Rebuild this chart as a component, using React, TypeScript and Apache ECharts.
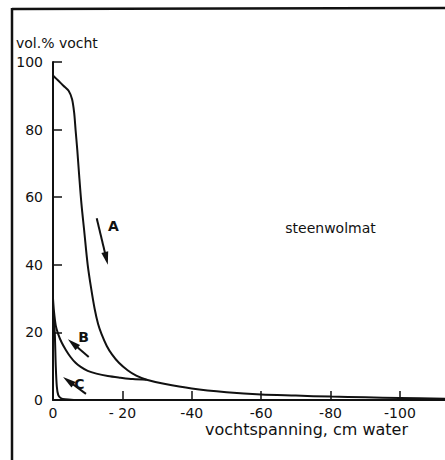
import React, { useEffect, useRef } from "react";
import * as echarts from "echarts";

// Curve A (drying)
const A_X = [0, -0.5, -1.5, -3, -4.5, -5.5, -6.1, -6.5, -7, -7.5, -8.2, -9, -10, -11, -12, -13, -14, -15.5, -17, -19, -21.5, -24, -27, -32, -40, -50, -60, -70, -80, -90, -100, -113];
const A_Y = [96, 95.5, 94.5, 93, 91.5, 89, 85, 80, 74, 67, 58, 50, 40, 33, 27, 22.5, 19.5, 16, 13.5, 11, 8.8, 7.2, 6, 4.8, 3.4, 2.3, 1.6, 1.3, 1.0, 0.8, 0.6, 0.4];
// Curve B
const B_X = [0, -0.3, -0.8, -1.5, -2.5, -3.7, -5, -6.5, -8, -10, -12.5, -15.8, -19.5, -23, -27];
const B_Y = [30, 26, 22, 19.5, 17, 14.8, 12.8, 11, 9.8, 8.6, 7.8, 7.1, 6.6, 6.2, 6];
// Curve C
const C_X = [0, -0.5, -0.8, -1.1, -1.5, -2.2, -3.5, -6];
const C_Y = [27, 20, 10, 4, 1.5, 0.6, 0.2, 0];

const X_TICKS = [0, -20, -40, -60, -80, -100];

// annotation arrows (data coordinates)
const ARROW_NAMES = ["A", "B", "C"];
const ARROW_TAIL = [[-12.6, 53.8], [-10.3, 12.7], [-9.5, 1.8]];
const ARROW_TIP = [[-15.8, 40], [-4.3, 18], [-2.9, 6.8]];
const ARROW_LABEL = [[-17.4, 51.5], [-8.8, 18.5], [-7.6, 4.6]];
const NOTE_TEXT = "steenwolmat";
const NOTE_POS = [-80, 51];

const FONT = "DejaVu Sans";

function pairs(xs: number[], ys: number[]) {
  return xs.map((x, i) => [x, ys[i]]);
}

export default function App() {
  const ref = useRef<HTMLDivElement>(null);
  useEffect(() => {
    if (!ref.current) return;
    const chart = echarts.init(ref.current, null, { renderer: "svg" });
    const lineStyle = { color: "#111", width: 2 };
    chart.setOption({
      animation: false,
      backgroundColor: "#fff",
      grid: { left: 53, top: 62, right: 0, bottom: 60 },
      xAxis: {
        type: "value",
        min: -113,
        max: 0,
        inverse: true,
        axisLine: { show: true, lineStyle: { color: "#111", width: 2 } },
        axisTick: { show: true, inside: true, length: 9, lineStyle: { color: "#111", width: 1.5 }, customValues: X_TICKS.slice(1) },
        axisLabel: {
          show: true,
          customValues: X_TICKS,
          color: "#111",
          fontFamily: FONT,
          fontSize: 14,
          margin: 6,
          formatter: (v: number) => (v === 0 ? "0" : v === -20 ? "- 20" : String(v)),
        },
        splitLine: { show: false },
      },
      yAxis: {
        type: "value",
        min: 0,
        max: 100,
        interval: 20,
        axisLine: { show: true, lineStyle: { color: "#111", width: 2 } },
        axisTick: { show: true, inside: true, length: 9, lineStyle: { color: "#111", width: 1.5 } },
        axisLabel: { color: "#111", fontFamily: FONT, fontSize: 14, margin: 10 },
        splitLine: { show: false },
      },
      series: [
        { type: "line", data: pairs(A_X, A_Y), showSymbol: false, smooth: 0.3, lineStyle },
        { type: "line", data: pairs(B_X, B_Y), showSymbol: false, smooth: 0.3, lineStyle },
        { type: "line", data: pairs(C_X, C_Y), showSymbol: false, smooth: 0.3, lineStyle },
      ],
    });

    const elements: any[] = [
      { type: "line", shape: { x1: 12, y1: 9, x2: 445, y2: 8 }, style: { stroke: "#111", lineWidth: 2.5 } },
      { type: "line", shape: { x1: 12, y1: 8, x2: 12, y2: 460 }, style: { stroke: "#111", lineWidth: 2.5 } },
      { type: "text", left: 16, top: 36, style: { text: "vol.% vocht", fill: "#111", font: `14px '${FONT}'` } },
      { type: "text", left: 205, top: 421, style: { text: "vochtspanning, cm water", fill: "#111", font: `16px '${FONT}'` } },
    ];
    const np = chart.convertToPixel({ gridIndex: 0 }, NOTE_POS) as number[];
    elements.push({ type: "text", x: np[0], y: np[1], style: { text: NOTE_TEXT, fill: "#111", font: `14px '${FONT}'`, align: "center", verticalAlign: "middle" } });
    ARROW_NAMES.forEach((name, i) => {
      const p1 = chart.convertToPixel({ gridIndex: 0 }, ARROW_TAIL[i]) as number[];
      const p2 = chart.convertToPixel({ gridIndex: 0 }, ARROW_TIP[i]) as number[];
      const pl = chart.convertToPixel({ gridIndex: 0 }, ARROW_LABEL[i]) as number[];
      const dx = p2[0] - p1[0];
      const dy = p2[1] - p1[1];
      const len = Math.hypot(dx, dy);
      const ux = dx / len, uy = dy / len;
      const nx = -uy, ny = ux;
      const hl = 13, hw = 3.5;
      const bx = p2[0] - ux * hl, by = p2[1] - uy * hl;
      elements.push({ type: "line", shape: { x1: p1[0], y1: p1[1], x2: bx + ux * 2, y2: by + uy * 2 }, style: { stroke: "#111", lineWidth: 2 } });
      elements.push({ type: "polygon", shape: { points: [[p2[0], p2[1]], [bx + nx * hw, by + ny * hw], [bx - nx * hw, by - ny * hw]] }, style: { fill: "#111" } });
      elements.push({ type: "text", x: pl[0], y: pl[1], style: { text: name, fill: "#111", font: `bold 14px '${FONT}'`, align: "center", verticalAlign: "middle" } });
    });
    chart.setOption({ graphic: { elements } });
    return () => chart.dispose();
  }, []);
  return <div ref={ref} style={{ position: "fixed", left: 0, top: 0, width: 445, height: 460 }} />;
}
